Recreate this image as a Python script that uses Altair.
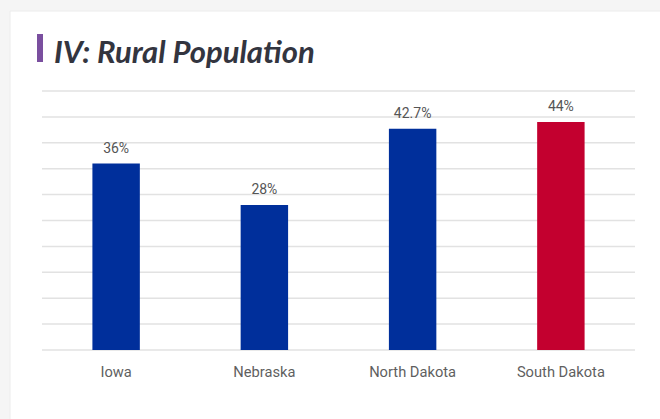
import altair as alt
import pandas as pd

# ---- data ----
states = ["Iowa", "Nebraska", "North Dakota", "South Dakota"]
rural_pct = [36, 28, 42.7, 44]
value_labels = ["36%", "28%", "42.7%", "44%"]
bar_colors = ["#002f9b", "#002f9b", "#002f9b", "#c3002f"]
grid_values = [0, 5, 10, 15, 20, 25, 30, 35, 40, 45, 50]
title_text = "IV: Rural Population"

df = pd.DataFrame({"state": states, "pct": rural_pct,
                   "label": value_labels, "color": bar_colors})
grid_df = pd.DataFrame({"v": grid_values})

W, H = 593, 259

y_scale = alt.Scale(domain=[0, 50], nice=False, zero=True)

grid = alt.Chart(grid_df).mark_rule(color="#e2e2e2", strokeWidth=1.5).encode(
    y=alt.Y("v:Q", scale=y_scale, axis=None))

x_enc = alt.X("state:N", sort=states,
              scale=alt.Scale(paddingInner=0.68, paddingOuter=0.34),
              axis=alt.Axis(title=None, labelAngle=0, ticks=False, domain=False,
                            labelFont="Roboto", labelFontSize=14.7, labelColor="#5f5f5f",
                            labelBaseline="alphabetic", labelPadding=26, grid=False))

bars = alt.Chart(df).mark_bar().encode(
    x=x_enc, y=alt.Y("pct:Q", scale=y_scale, axis=None),
    color=alt.Color("color:N", scale=None))

text = alt.Chart(df).mark_text(dy=-11, baseline="alphabetic", fontSize=14,
                               font="Roboto", color="#555555").encode(
    x=alt.X("state:N", sort=states), y=alt.Y("pct:Q", scale=y_scale, axis=None),
    text="label:N")

one = alt.Data(values=[{"k": 1}])
# page background strips around the white card (decoration)
top_strip = alt.Chart(one).mark_rect(color="#f5f5f5").encode(
    x=alt.value(-42), x2=alt.value(W + 30), y=alt.value(-91), y2=alt.value(-80))
left_strip = alt.Chart(one).mark_rect(color="#f5f5f5").encode(
    x=alt.value(-42), x2=alt.value(-32), y=alt.value(-80), y2=alt.value(H + 80))
edge_top = alt.Chart(one).mark_rule(color="#ececec", strokeWidth=1).encode(
    x=alt.value(-32), x2=alt.value(W + 30), y=alt.value(-80))
edge_left = alt.Chart(one).mark_rule(color="#ececec", strokeWidth=1).encode(
    x=alt.value(-32), y=alt.value(-80), y2=alt.value(H + 80))
accent = alt.Chart(one).mark_rect(color="#7a4f9f").encode(
    x=alt.value(-5), x2=alt.value(1), y=alt.value(-57), y2=alt.value(-29))
title = alt.Chart(one).mark_text(
    text=title_text, align="left", baseline="alphabetic", font="Lato",
    fontSize=31, fontStyle="italic", fontWeight="bold", color="#33353f").encode(
    x=alt.value(12), y=alt.value(-28))

chart = alt.layer(top_strip, left_strip, edge_top, edge_left, accent, title,
                  grid, bars, text).properties(
    width=W, height=H,
    autosize=alt.AutoSizeParams(type="none"),
    padding={"left": 42, "top": 91, "right": 25, "bottom": 69},
    background="white",
).configure_view(stroke=None)

chart.save("out.html", embed_options={"renderer": "svg", "actions": False})
